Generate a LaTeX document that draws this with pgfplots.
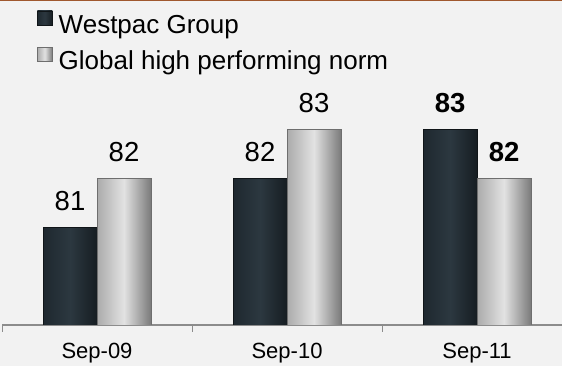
\documentclass[border=0pt]{standalone}
\usepackage{fontspec}
\setmainfont{Liberation Sans}
\usepackage{pgfplots}
\pgfplotsset{compat=1.18}
\definecolor{bg}{HTML}{F2F2F2}
\definecolor{topline}{HTML}{A0582E}
\definecolor{darkL}{HTML}{1E282F}
\definecolor{darkM}{HTML}{2C3840}
\definecolor{darkR}{HTML}{161D22}
\definecolor{darkedge}{HTML}{101518}
\definecolor{axisgray}{HTML}{8C8C8C}
\definecolor{lightL}{HTML}{ABABAB}
\definecolor{lightM}{HTML}{E2E2E2}
\definecolor{lightR}{HTML}{7A7A7A}
\definecolor{lightedge}{HTML}{6E6E6E}
\begin{document}
\begin{tikzpicture}
\fill[bg] (0,0) rectangle (562pt,366pt);
\fill[topline] (0,364.8pt) rectangle (562pt,366pt);
\begin{scope}
\clip (0,0) rectangle (562pt,366pt);
\begin{axis}[
  at={(2pt,41pt)}, anchor=south west,
  scale only axis, width=560pt, height=325pt,
  xmin=-0.5, xmax=2.447, ymin=79, ymax=85.66,
  ybar=0pt, bar width=54pt,
  hide y axis, axis x line*=bottom,
  x axis line style={-,axisgray,line width=1.2pt},
  xtick={0,1,2}, xticklabels={Sep-09,Sep-10,Sep-11},
  major tick length=0pt,
  extra x ticks={-0.5,0.5,1.5}, extra x tick labels={},
  extra x tick style={major tick length=7pt, tick align=outside, major tick style={axisgray,line width=1pt}},
  xticklabel style={font=\fontsize{22}{26}\selectfont, inner sep=0pt, yshift=-18pt},
  nodes near coords={\pgfplotspointmeta}, point meta=explicit symbolic,
  every node near coord/.append style={font=\fontsize{27.5}{30}\selectfont, inner sep=0pt, anchor=south, yshift=16.5pt, text=black},
  legend cell align=left,
  legend image code/.code={\path[#1] (0pt,1pt) rectangle (15pt,15.6pt);},
  legend style={at={(axis description cs:0.062,0.968)}, anchor=north west,
    draw=none, fill=none, inner sep=0pt, column sep=6pt, row sep=8.8pt,
    font=\fontsize{26}{30}\selectfont,
    nodes={inner sep=0pt, text height=18pt, text depth=5pt}},
  darkstyle/.style={bar shift=-27pt, draw=darkedge, line width=0.8pt, left color=darkL, right color=darkR, middle color=darkM},
  lightstyle/.style={bar shift=27pt, draw=lightedge, line width=0.8pt, left color=lightL, right color=lightR, middle color=lightM},
]
\addplot[darkstyle] coordinates {(0,81) [81]};
\addplot[darkstyle, forget plot] coordinates {(1,82) [82]};
\addplot[darkstyle, forget plot] coordinates {(2,83) [\textbf{83}]};
\addplot[lightstyle] coordinates {(0,82) [82]};
\addplot[lightstyle, forget plot] coordinates {(1,83) [83]};
\addplot[lightstyle, forget plot] coordinates {(2,82) [\textbf{82}]};
\legend{Westpac Group, Global high performing norm}
\end{axis}
\end{scope}
\end{tikzpicture}
\end{document}
